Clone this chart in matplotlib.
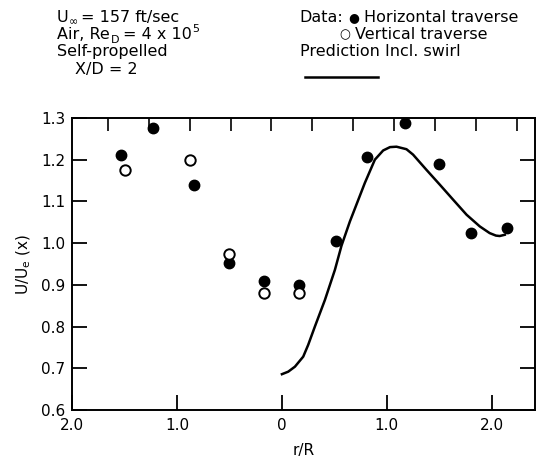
import matplotlib.pyplot as plt

plt.rcParams['font.family'] = ['DejaVu Sans']

# left half of the traverse is plotted at negative positions, labelled as r/R
horiz_x = [-1.53, -1.23, -0.84, -0.50, -0.17, 0.16, 0.52, 0.81, 1.17, 1.50, 1.80, 2.15]
horiz_y = [1.211, 1.276, 1.140, 0.953, 0.909, 0.900, 1.005, 1.207, 1.288, 1.190, 1.025, 1.036]

vert_x = [-1.50, -0.88, -0.50, -0.17, 0.16]
vert_y = [1.176, 1.200, 0.974, 0.880, 0.880]

pred_x = [0.0, 0.06, 0.124, 0.203, 0.25, 0.314, 0.41, 0.505, 0.568, 0.648, 0.679, 0.79,
          0.886, 0.965, 1.03, 1.092, 1.187, 1.25, 1.376, 1.505, 1.632, 1.76, 1.886,
          1.98, 2.04, 2.076, 2.124]
pred_y = [0.686, 0.692, 0.704, 0.728, 0.756, 0.800, 0.864, 0.936, 0.994, 1.052, 1.072,
          1.144, 1.200, 1.222, 1.230, 1.231, 1.225, 1.212, 1.176, 1.140, 1.104, 1.068,
          1.040, 1.024, 1.018, 1.017, 1.020]

xtick_pos = [-2, -1, 0, 1, 2]
xtick_lab = ['2.0', '1.0', '0', '1.0', '2.0']
ytick_pos = [0.6, 0.7, 0.8, 0.9, 1.0, 1.1, 1.2, 1.3]

W, H = 538, 466
fig = plt.figure(figsize=(W / 100, H / 100), dpi=100)
ax = fig.add_axes([0.134, 0.120, 0.860, 0.627])

ax.plot(pred_x, pred_y, color='black', lw=1.8)
ax.plot(horiz_x, horiz_y, 'o', color='black', ms=7.5)
ax.plot(vert_x, vert_y, 'o', mfc='white', mec='black', mew=1.4, ms=7.5)

ax.set_xlim(-2.0, 2.41)
ax.set_ylim(0.6, 1.3)
ax.set_xticks(xtick_pos)
ax.set_xticklabels(xtick_lab)
ax.set_yticks(ytick_pos)
ax.set_yticklabels(['%.1f' % v for v in ytick_pos])
ax.tick_params(direction='in', length=11, width=1.3, labelsize=11, right=True)
ax.tick_params(axis='x', pad=6)
ax.tick_params(axis='y', pad=5)

# top edge ticks (scale independent of r/R)
top = ax.secondary_xaxis('top')
top.set_xticks([-1.66 + 0.39 * k for k in range(11)])
top.tick_params(direction='in', length=9, width=1.2, labeltop=False)
top.set_xticklabels([])
top.spines['top'].set_visible(False)

for s in ax.spines.values():
    s.set_linewidth(1.4)

ax.set_xlabel('r/R', fontsize=11, labelpad=7)
ax.set_ylabel('U/U$_\\mathregular{e}$ (x)', fontsize=11, labelpad=6)

# header text, written piece by piece so sub/superscripts stay small
renderer = fig.canvas.get_renderer()
fs = 11.5


def put_line(x, y, pieces):
    for txt, kind, gap in pieces:
        size = {'n': fs, 'sub': fs * 0.7, 'sup': fs * 0.7, 'sym': 9}[kind]
        dy = {'n': 0, 'sub': -0.22, 'sup': 0.42, 'sym': 0.04}[kind] * fs / 72 * 100 / H
        t = fig.text(x + gap / W, y + dy, txt, fontsize=size, va='baseline')
        x = t.get_window_extent(renderer).x1 / W


put_line(0.106, 0.953, [('U', 'n', 0), ('\u221e', 'sub', 0), ('= 157 ft/sec', 'n', 3)])
put_line(0.106, 0.916, [('Air, Re', 'n', 0), ('D', 'sub', 1), ('= 4 x 10', 'n', 4),
                        ('5', 'sup', 0)])
put_line(0.106, 0.879, [('Self-propelled', 'n', 0)])
put_line(0.140, 0.842, [('X/D = 2', 'n', 0)])

put_line(0.557, 0.953, [('Data:', 'n', 0), ('\u25cf', 'sym', 5), ('Horizontal traverse', 'n', 5)])
put_line(0.630, 0.916, [('\u25cb', 'sym', 0), ('Vertical traverse', 'n', 5)])
put_line(0.557, 0.879, [('Prediction Incl. swirl', 'n', 0)])
fig.add_artist(plt.Line2D([0.567, 0.703], [0.835, 0.835], color='black', lw=1.8))

fig.savefig('out.png', dpi=100)
